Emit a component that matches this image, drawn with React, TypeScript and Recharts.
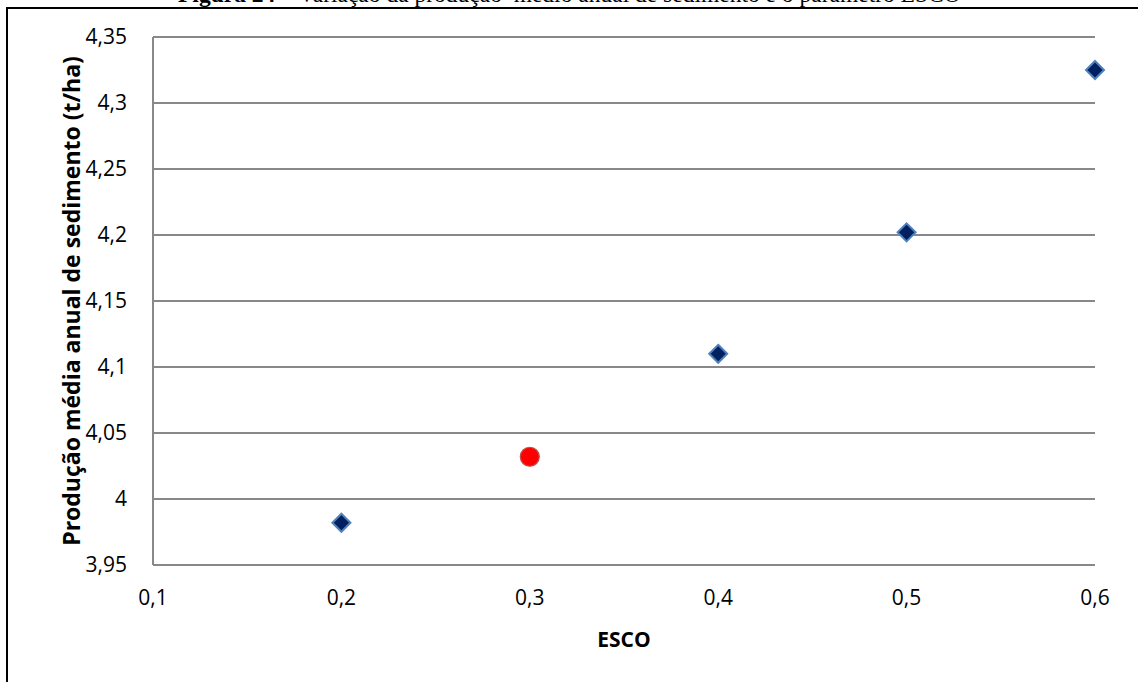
import React from "react";
import {
  ScatterChart,
  Scatter,
  XAxis,
  YAxis,
  CartesianGrid,
} from "recharts";

// ESCO values and mean annual sediment yield (t/ha)
const escoValues = [0.2, 0.4, 0.5, 0.6];
const sedimentValues = [3.982, 4.11, 4.202, 4.325];
const baseEsco = [0.3];
const baseSediment = [4.032];

const xTicks = [0.1, 0.2, 0.3, 0.4, 0.5, 0.6];
const yTicks = [3.95, 4, 4.05, 4.1, 4.15, 4.2, 4.25, 4.3, 4.35];

const titleBold = "Figura 24";
const titleRest = " – Variação da produção  médio anual de sedimento e o parâmetro ESCO";
const yLabel = "Produção média anual de sedimento (t/ha)";
const xLabel = "ESCO";

const seriesData = escoValues.map((x, i) => ({ x, y: sedimentValues[i] }));
const baseData = baseEsco.map((x, i) => ({ x, y: baseSediment[i] }));

const FONT = "'Open Sans', 'Noto Sans', sans-serif";
const fmt = (v: number) => String(v).replace(".", ",");

function Diamond(props: any) {
  const { cx, cy } = props;
  const r = 9;
  return (
    <polygon
      points={`${cx},${cy - r} ${cx + r},${cy} ${cx},${cy + r} ${cx - r},${cy}`}
      fill="#002060"
      stroke="#4f81bd"
      strokeWidth={2}
    />
  );
}

function Dot(props: any) {
  const { cx, cy } = props;
  return <circle cx={cx} cy={cy} r={9.5} fill="#ff0000" stroke="#c0504d" strokeWidth={1.2} />;
}

function YTitle(props: any) {
  const { viewBox } = props;
  const x = viewBox.x + 71;
  const y = viewBox.y + viewBox.height / 2;
  return (
    <text
      x={x}
      y={y}
      transform={`rotate(-90, ${x}, ${y})`}
      textAnchor="middle"
      dominantBaseline="central"
      fontFamily={FONT}
      fontWeight="bold"
      fontSize={23}
      fill="#000"
    >
      {yLabel}
    </text>
  );
}

export default function App() {
  return (
    <div
      style={{
        position: "fixed",
        left: 0,
        top: 0,
        width: 1138,
        height: 682,
        overflow: "hidden",
        background: "#fff",
      }}
    >
      <div
        style={{
          position: "absolute",
          left: 178,
          top: -18,
          fontFamily: "'Liberation Serif', serif",
          fontSize: 23.5,
          lineHeight: "24px",
          whiteSpace: "pre",
          color: "#000",
        }}
      >
        <b>{titleBold}</b>
        {titleRest}
      </div>
      <div
        style={{
          position: "absolute",
          left: 6,
          top: 7,
          width: 1300,
          height: 800,
          borderLeft: "2px solid #000",
          borderTop: "2px solid #000",
        }}
      />
      <div style={{ position: "absolute", left: 0, top: 0 }}>
        <ScatterChart
          width={1138}
          height={682}
          margin={{ top: 37, right: 43, bottom: 0, left: 0 }}
        >
          <CartesianGrid
            vertical={false}
            stroke="#888888"
            strokeWidth={2}
          />
          <XAxis
            type="number"
            dataKey="x"
            domain={[0.1, 0.6]}
            ticks={xTicks}
            tickFormatter={fmt}
            height={117}
            tickSize={0}
            tickMargin={25}
            axisLine={{ stroke: "#888888", strokeWidth: 2 }}
            tickLine={false}
            tick={{ fontFamily: FONT, fontSize: 21, fill: "#000" }}
            label={{
              value: xLabel,
              position: "insideBottom",
              offset: 35,
              fontFamily: FONT,
              fontWeight: "bold",
              fontSize: 21,
              fill: "#000",
            }}
          />
          <YAxis
            type="number"
            dataKey="y"
            domain={[3.95, 4.35]}
            ticks={yTicks}
            tickFormatter={fmt}
            width={153}
            tickSize={0}
            tickMargin={26}
            axisLine={{ stroke: "#888888", strokeWidth: 2 }}
            tickLine={false}
            tick={{ fontFamily: FONT, fontSize: 21, fill: "#000" }}
            label={<YTitle />}
          />
          <Scatter data={seriesData} shape={<Diamond />} isAnimationActive={false} />
          <Scatter data={baseData} shape={<Dot />} isAnimationActive={false} />
        </ScatterChart>
      </div>
    </div>
  );
}
